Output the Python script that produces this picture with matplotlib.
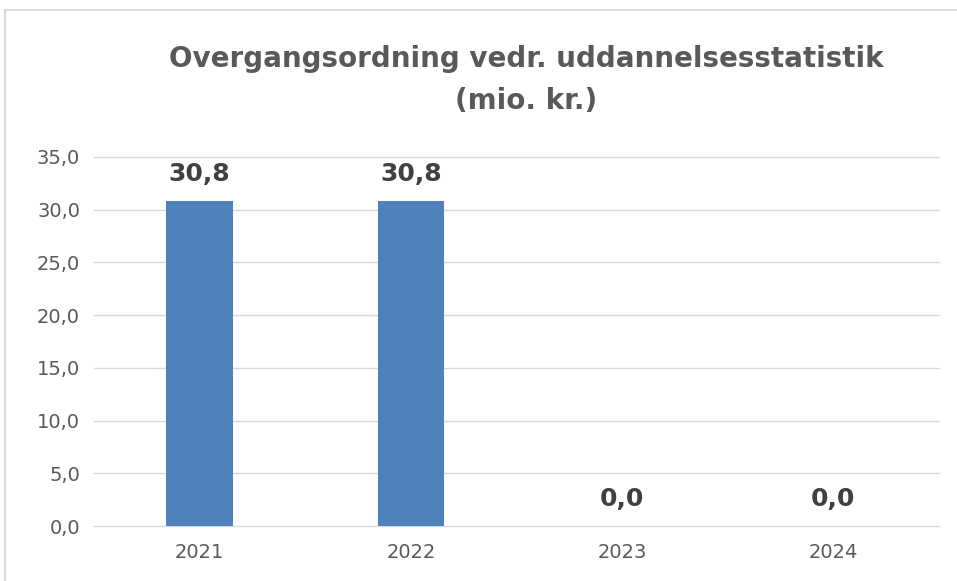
import matplotlib
matplotlib.use("Agg")
import matplotlib.pyplot as plt
from matplotlib.patches import Rectangle

categories = ["2021", "2022", "2023", "2024"]
values = [30.8, 30.8, 0.0, 0.0]
yticks = [0, 5, 10, 15, 20, 25, 30, 35]
title = "Overgangsordning vedr. uddannelsesstatistik\n(mio. kr.)"

W, H = 957, 581
fig = plt.figure(figsize=(W / 100, H / 100), dpi=100)
fig.patch.set_facecolor("white")

# outer chart border (left and top visible)
fig.patches.append(Rectangle((5 / W, -0.05), 1.2, (H - 10) / H + 0.05,
                             transform=fig.transFigure, fill=False,
                             edgecolor="#d9d9d9", linewidth=1.5))

ax = fig.add_axes([94 / W, 55 / H, 845 / W, 369 / H])
x = list(range(len(categories)))
ax.bar(x, values, width=0.315, color="#4f81bd", zorder=3)
ax.set_xlim(-0.5, len(categories) - 0.5)
ax.set_ylim(0, 35)
ax.set_yticks(yticks)
ax.set_yticklabels([f"{v:.1f}".replace(".", ",") for v in yticks])
ax.set_xticks(x)
ax.set_xticklabels(categories)
ax.grid(axis="y", color="#d9d9d9", linewidth=1, zorder=0)
for gl in ax.get_ygridlines():
    gl.set_clip_on(False)
for s in ax.spines.values():
    s.set_visible(False)
ax.tick_params(axis="both", length=0, labelsize=14, labelcolor="#595959")
ax.tick_params(axis="y", pad=10)
ax.tick_params(axis="x", pad=12)

for xi, v in zip(x, values):
    ax.annotate(f"{v:.1f}".replace(".", ","), (xi, v), xytext=(0, 11),
                textcoords="offset points", ha="center", va="bottom",
                fontsize=18, fontweight="bold", color="#404040")

fig.text(526 / W, 1 - 80 / H, title, ha="center", va="center",
         fontsize=20, fontweight="bold", color="#595959",
         linespacing=1.65)

fig.savefig("out.png", dpi=100)
